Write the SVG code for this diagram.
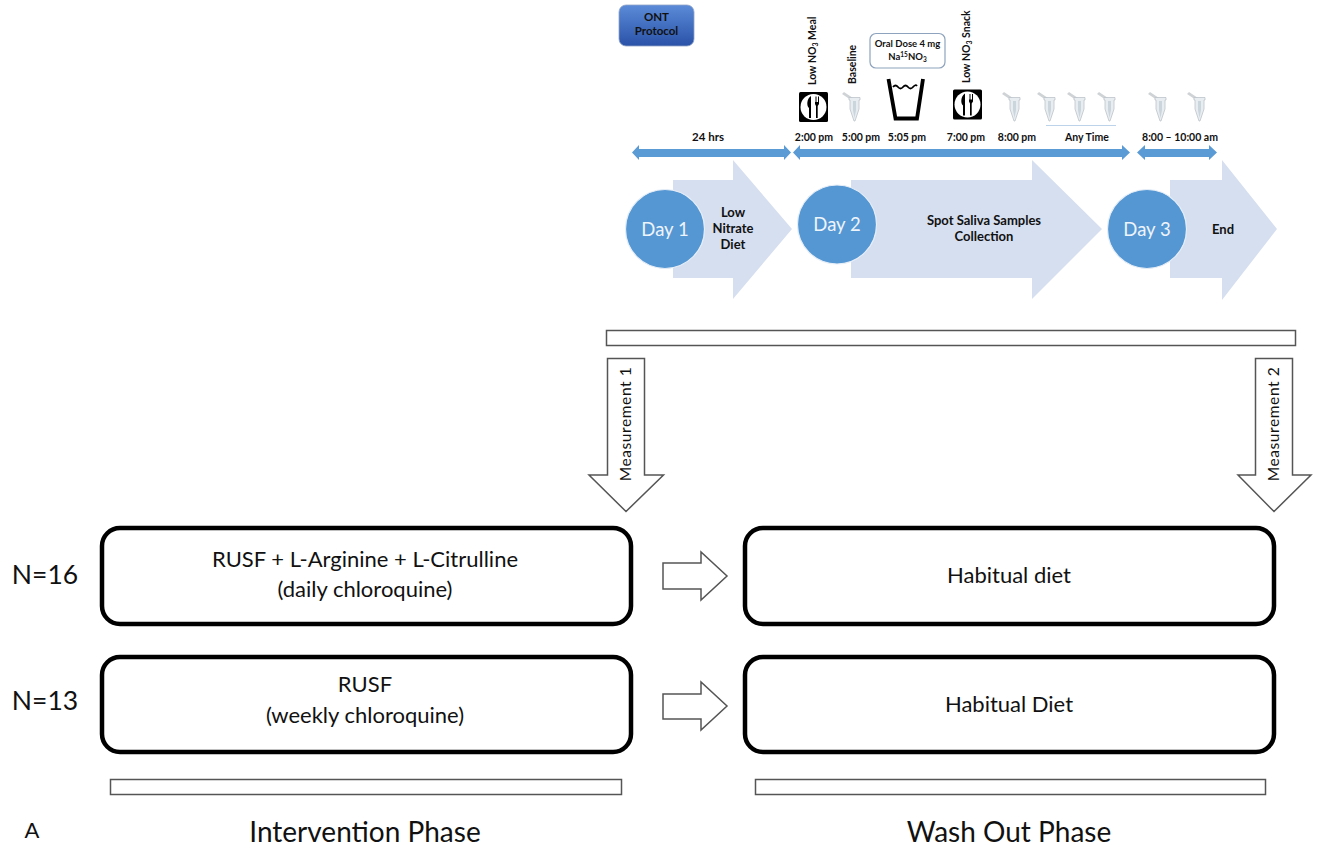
<svg xmlns="http://www.w3.org/2000/svg" width="1322" height="850" viewBox="0 0 1322 850">
<style>
text{font-family:"Lato","Carlito","Open Sans",sans-serif;fill:#111;text-anchor:middle}
.s{font-size:10.500px;font-weight:700}
.l{font-size:13px;font-weight:700}
.r{font-size:10.500px;font-weight:700;text-anchor:start}
.m{font-size:22px}
.p{font-size:28px}
.n{font-size:26.500px}
.d{font-size:18.500px;fill:#eef4fb}
.b{fill:none;stroke:#000;stroke-width:4.500}
.w{fill:#fff;stroke:#555;stroke-width:1.500}
.a{fill:#d6dfef}
.c{fill:#5597d3;stroke:#e6eef7;stroke-width:1.200}
.t{fill:#5b9bd5}
</style>
<defs>
<linearGradient id="g" x1="0" y1="0" x2="0" y2="1"><stop offset="0" stop-color="#5b8bd8"/><stop offset="1" stop-color="#2a52a8"/></linearGradient>
<g id="tube">
<path d="M-2 -13 L0 -15 L9 -9 L7 -7Z" fill="#cfd3d6"/>
<path d="M5 -9.500 H16 V-7 H15 V2 L11 14 H10 L6 2 V-7 H5Z" fill="#e8edf1" stroke="#bcc4c9" stroke-width="0.800"/>
<path d="M9 -6 H12 V3 L10.500 11 L9 3Z" fill="#cbd5dc"/>
</g>
<g id="plate">
<rect x="-14.500" y="-15" width="29" height="30" rx="1.500" fill="#000"/>
<circle r="13" fill="#fff"/>
<path d="M-2.500 -11 C-7 -8 -7 -1 -4.500 1 V11 H-2.500Z M1.500 -10.500 H2 V-5 H3 V-10.500 H3.500 V-5 H4.500 V-10.500 H5.500 V-3 L4.200 -1 V11 H2.500 V-1 L1.500 -3Z" fill="#000"/>
</g>
</defs>

<g id="connectors">
<polygon class="t" points="632,152.500 639,145 639,149 784,149 784,145 791,152.500 784,160 784,157 639,157 639,160"/>
<polygon class="t" points="793,152.500 800,145 800,149 1122,149 1122,145 1130,152.500 1122,160 1122,157 800,157 800,160"/>
<polygon class="t" points="1137,152.500 1145,145 1145,149 1209,149 1209,145 1217,152.500 1209,160 1209,157 1145,157 1145,160"/>
<line x1="1046" y1="125.500" x2="1116" y2="125.500" stroke="#bdd3ea" stroke-width="1"/>
<polygon class="w" points="663,563 701,563 701,552 727,576 701,600 701,589 663,589"/>
<polygon class="w" points="663,694 701,694 701,682 727,706 701,730 701,719 663,719"/>
</g>

<g id="ont-protocol">
<rect x="619" y="5" width="75" height="41" rx="7" fill="url(#g)" stroke="#8fa3c8" stroke-width="0.800"/>
<text x="656.500" y="21" style="font-size:11.500px;font-weight:700">ONT</text>
<text x="656.500" y="35" style="font-size:11.500px;font-weight:700">Protocol</text>
</g>

<g id="time-labels">
<text x="708" y="141" style="font-size:11.500px;font-weight:700">24 hrs</text>
<text class="s" x="814" y="141">2:00 pm</text>
<text class="s" x="861" y="141">5:00 pm</text>
<text class="s" x="907" y="141">5:05 pm</text>
<text class="s" x="966" y="141">7:00 pm</text>
<text class="s" x="1017" y="141">8:00 pm</text>
<text class="s" x="1087" y="141">Any Time</text>
<text class="s" x="1180" y="141">8:00 – 10:00 am</text>
</g>

<g id="meal-1">
<use href="#plate" x="813.500" y="107"/>
<text class="r" transform="translate(816 85) rotate(-90)">Low NO<tspan font-size="7" dy="2">3</tspan><tspan dy="-2"> Meal</tspan></text>
</g>
<g id="baseline">
<use href="#tube" x="844" y="107"/>
<text class="r" transform="translate(856 84) rotate(-90)">Baseline</text>
</g>
<g id="oral-dose">
<rect x="870" y="33.500" width="75" height="34.500" rx="6" fill="#fff" stroke="#8ea3bd" stroke-width="1.200"/>
<text x="907.500" y="47" style="font-size:9.500px;font-weight:700">Oral Dose 4 mg</text>
<text x="907.500" y="60" style="font-size:9.500px;font-weight:700">Na<tspan font-size="6.500" dy="-3">15</tspan><tspan dy="3">NO</tspan><tspan font-size="6.500" dy="2">3</tspan></text>
<path d="M888.500 79 L895.500 118.500 H917 L923 79" fill="none" stroke="#000" stroke-width="3.800"/>
<path d="M893 87 q2.500 -3 5 0 t5 0 t5 0 t5 0 t4 -1" fill="none" stroke="#000" stroke-width="1.800"/>
</g>
<g id="meal-2">
<use href="#plate" x="967.500" y="104.500"/>
<text class="r" transform="translate(970 83) rotate(-90)">Low NO<tspan font-size="7" dy="2">3</tspan><tspan dy="-2"> Snack</tspan></text>
</g>
<g id="tubes">
<use href="#tube" x="1004" y="107"/>
<use href="#tube" x="1039" y="107"/>
<use href="#tube" x="1069" y="107"/>
<use href="#tube" x="1099" y="107"/>
<use href="#tube" x="1150" y="107"/>
<use href="#tube" x="1189" y="107"/>
</g>

<g id="day-1">
<polygon class="a" points="673,180 733,180 733,160 792,229 733,299 733,278 673,278"/>
<circle class="c" cx="665" cy="229" r="39.500"/>
<text class="d" x="665" y="235.500">Day 1</text>
<text class="l" x="733" y="217">Low</text>
<text class="l" x="733" y="233">Nitrate</text>
<text class="l" x="733" y="249">Diet</text>
</g>
<g id="day-2">
<polygon class="a" points="851,180 1032,180 1032,160 1102,229 1032,299 1032,278 851,278"/>
<circle class="c" cx="837" cy="224.500" r="39.500"/>
<text class="d" x="837" y="231">Day 2</text>
<text class="l" x="984" y="225">Spot Saliva Samples</text>
<text class="l" x="984" y="241">Collection</text>
</g>
<g id="day-3">
<polygon class="a" points="1170,180 1222,180 1222,160 1277,229 1222,300 1222,278 1170,278"/>
<circle class="c" cx="1147" cy="229" r="39.500"/>
<text class="d" x="1147" y="235.500">Day 3</text>
<text class="l" x="1223" y="234">End</text>
</g>

<g id="protocol-bar"><rect class="w" x="606.500" y="330.500" width="689" height="15"/></g>

<g id="measurement-1">
<polygon class="w" points="607.500,358.500 644.500,358.500 644.500,475 663.500,475 626,511.500 589,475 607.500,475"/>
<text transform="translate(631 424) rotate(-90)" style="font-size:15.500px;letter-spacing:.6px">Measurement 1</text>
</g>
<g id="measurement-2">
<polygon class="w" points="1255.500,358.500 1292.500,358.500 1292.500,475 1311,475 1274,511.500 1238,475 1255.500,475"/>
<text transform="translate(1279 424) rotate(-90)" style="font-size:15.500px;letter-spacing:.6px">Measurement 2</text>
</g>

<g id="n16"><text class="n" x="45" y="584">N=16</text></g>
<g id="n13"><text class="n" x="45" y="710">N=13</text></g>

<g id="intervention-1">
<rect class="b" x="102" y="528" width="529" height="96" rx="18"/>
<text class="m" x="365" y="567">RUSF + L-Arginine + L-Citrulline</text>
<text class="m" x="365" y="597">(daily chloroquine)</text>
</g>
<g id="washout-1">
<rect class="b" x="745" y="528" width="529" height="96" rx="18"/>
<text class="m" x="1009" y="583">Habitual diet</text>
</g>
<g id="intervention-2">
<rect class="b" x="102" y="657" width="529" height="95" rx="18"/>
<text class="m" x="365" y="692">RUSF</text>
<text class="m" x="365" y="723">(weekly chloroquine)</text>
</g>
<g id="washout-2">
<rect class="b" x="745" y="657" width="529" height="95" rx="18"/>
<text class="m" x="1009" y="712">Habitual Diet</text>
</g>

<g id="intervention-bar"><rect class="w" x="110.500" y="779.500" width="511" height="15"/></g>
<g id="washout-bar"><rect class="w" x="755.500" y="779.500" width="510" height="15"/></g>

<text x="32" y="838" style="font-size:22px">A</text>
<text class="p" x="365" y="842">Intervention Phase</text>
<text class="p" x="1009" y="842">Wash Out Phase</text>
</svg>
